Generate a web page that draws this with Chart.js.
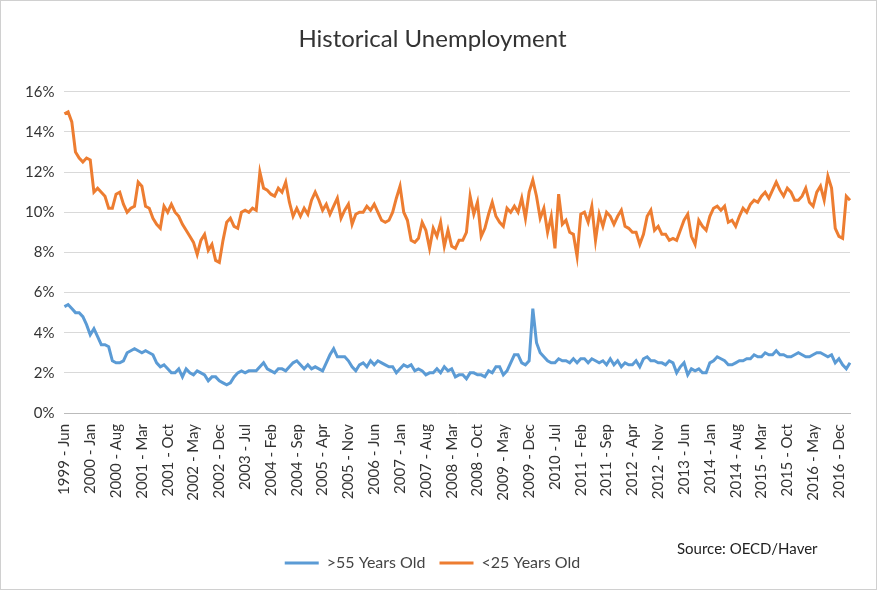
<!DOCTYPE html>
<html>
<head>
<meta charset="utf-8">
<script src="https://cdn.jsdelivr.net/npm/chart.js@4/dist/chart.umd.min.js"></script>
<style>
  html, body { margin: 0; padding: 0; background: #fff; }
  .frame { position: relative; width: 875px; height: 588px; border: 1px solid #d0d0d0; }
  canvas { display: block; }
  .source { position: absolute; left: 676px; top: 538px; font: 15px Lato, sans-serif; color: #222; }
</style>
</head>
<body>
<div class="frame">
  <canvas id="chart" width="875" height="588"></canvas>
  <div class="source">Source: OECD/Haver</div>
</div>
<script>
const MONTHS = ['Jan', 'Feb', 'Mar', 'Apr', 'May', 'Jun', 'Jul', 'Aug', 'Sep', 'Oct', 'Nov', 'Dec']
const startYear = 1999
const startMonth = 5 // Jun

const over55 = [
  5.3, 5.4, 5.2, 5.0, 5.0, 4.8, 4.4,
  3.9, 4.2, 3.8, 3.4, 3.4, 3.3, 2.6, 2.5, 2.5, 2.6, 3.0, 3.1,
  3.2, 3.1, 3.0, 3.1, 3.0, 2.9, 2.5, 2.3, 2.4, 2.2, 2.0, 2.0,
  2.2, 1.8, 2.2, 2.0, 1.9, 2.1, 2.0, 1.9, 1.6, 1.8, 1.8, 1.6,
  1.5, 1.4, 1.5, 1.8, 2.0, 2.1, 2.0, 2.1, 2.1, 2.1, 2.3, 2.5,
  2.2, 2.1, 2.0, 2.2, 2.2, 2.1, 2.3, 2.5, 2.6, 2.4, 2.2, 2.4,
  2.2, 2.3, 2.2, 2.1, 2.5, 2.9, 3.2, 2.8, 2.8, 2.8, 2.6, 2.3,
  2.1, 2.4, 2.5, 2.3, 2.6, 2.4, 2.6, 2.5, 2.4, 2.3, 2.3, 2.0,
  2.2, 2.4, 2.3, 2.4, 2.1, 2.2, 2.1, 1.9, 2.0, 2.0, 2.2, 2.0,
  2.3, 2.1, 2.2, 1.8, 1.9, 1.9, 1.7, 2.0, 2.0, 1.9, 1.9, 1.8,
  2.1, 2.0, 2.3, 2.3, 1.9, 2.1, 2.5, 2.9, 2.9, 2.5, 2.4, 2.6,
  5.2, 3.5, 3.0, 2.8, 2.6, 2.5, 2.5, 2.7, 2.6, 2.6, 2.5, 2.7,
  2.5, 2.7, 2.7, 2.5, 2.7, 2.6, 2.5, 2.6, 2.4, 2.7, 2.4, 2.6,
  2.3, 2.5, 2.4, 2.4, 2.6, 2.3, 2.7, 2.8, 2.6, 2.6, 2.5, 2.5,
  2.4, 2.6, 2.5, 2.0, 2.3, 2.5, 1.9, 2.2, 2.1, 2.2, 2.0, 2.0,
  2.5, 2.6, 2.8, 2.7, 2.6, 2.4, 2.4, 2.5, 2.6, 2.6, 2.7, 2.7,
  2.9, 2.8, 2.8, 3.0, 2.9, 2.9, 3.1, 2.9, 2.9, 2.8, 2.8, 2.9,
  3.0, 2.9, 2.8, 2.8, 2.9, 3.0, 3.0, 2.9, 2.8, 2.9, 2.5, 2.7,
  2.4, 2.2, 2.5
]

const under25 = [
  14.9, 15.0, 14.5, 13.0, 12.7, 12.5, 12.7,
  12.6, 11.0, 11.2, 11.0, 10.8, 10.2, 10.2, 10.9, 11.0, 10.4, 10.0, 10.2,
  10.3, 11.5, 11.3, 10.3, 10.2, 9.7, 9.4, 9.2, 10.3, 10.0, 10.4, 10.0,
  9.8, 9.4, 9.1, 8.8, 8.5, 7.9, 8.6, 8.9, 8.1, 8.4, 7.6, 7.5,
  8.6, 9.5, 9.7, 9.3, 9.2, 10.0, 10.1, 10.0, 10.2, 10.1, 12.0, 11.2,
  11.1, 10.9, 10.8, 11.2, 11.0, 11.5, 10.5, 9.8, 10.2, 9.8, 10.2, 9.9,
  10.6, 11.0, 10.6, 10.1, 10.4, 9.9, 10.3, 10.7, 9.7, 10.1, 10.4, 9.4,
  9.9, 10.0, 10.0, 10.3, 10.1, 10.4, 10.0, 9.6, 9.5, 9.6, 10.0, 10.7,
  11.3, 10.0, 9.6, 8.6, 8.5, 8.7, 9.5, 9.1, 8.2, 9.2, 8.8, 9.5,
  8.3, 9.1, 8.3, 8.2, 8.6, 8.6, 9.0, 10.8, 9.9, 10.5, 8.8, 9.2,
  9.9, 10.5, 9.8, 9.5, 9.3, 10.2, 10.0, 10.3, 10.0, 10.7, 9.7, 11.0,
  11.6, 10.8, 9.7, 10.2, 9.0, 9.8, 8.2, 10.9, 9.4, 9.6, 9.0, 8.9,
  7.8, 9.9, 10.0, 9.5, 10.3, 8.6, 9.9, 9.3, 10.0, 9.8, 9.4, 9.8,
  10.1, 9.3, 9.2, 9.0, 9.0, 8.4, 8.9, 9.8, 10.1, 9.1, 9.3, 8.9,
  8.9, 8.6, 8.7, 8.6, 9.1, 9.6, 9.9, 8.8, 8.4, 9.6, 9.3, 9.1,
  9.8, 10.2, 10.3, 10.1, 10.3, 9.5, 9.6, 9.3, 9.8, 10.2, 10.0, 10.4,
  10.6, 10.5, 10.8, 11.0, 10.7, 11.1, 11.5, 11.1, 10.8, 11.2, 11.0, 10.6,
  10.6, 10.8, 11.2, 10.5, 10.3, 11.0, 11.3, 10.6, 11.8, 11.2, 9.2, 8.8,
  8.7, 10.8, 10.6, 11.3
]

const labels = over55.map((_, i) => {
  const m = startMonth + i
  return (startYear + Math.floor(m / 12)) + ' - ' + MONTHS[m % 12]
})

const yTicks = [0, 2, 4, 6, 8, 10, 12, 14, 16]

const font = 'Lato, "Open Sans", sans-serif'

new Chart(document.getElementById('chart'), {
  type: 'line',
  data: {
    labels: labels,
    datasets: [
      { label: '>55 Years Old', data: over55, borderColor: '#5B9BD5', backgroundColor: '#5B9BD5', borderWidth: 3, pointRadius: 0, tension: 0 },
      { label: '<25 Years Old', data: under25, borderColor: '#ED7D31', backgroundColor: '#ED7D31', borderWidth: 3, pointRadius: 0, tension: 0 }
    ]
  },
  options: {
    responsive: false,
    animation: false,
    layout: { padding: { left: 14, right: 26, top: 6, bottom: 8 } },
    plugins: {
      title: { display: true, text: 'Historical Unemployment', color: '#333', font: { family: font, size: 24, weight: 'normal' }, padding: { top: 18, bottom: 38 } },
      legend: {
        position: 'bottom',
        align: 'center',
        labels: {
          color: '#444',
          font: { family: font, size: 16 },
          boxWidth: 34,
          boxHeight: 3,
          padding: 14,
          generateLabels: chart => Chart.defaults.plugins.legend.labels.generateLabels(chart).map(l => Object.assign(l, { lineWidth: 0 }))
        }
      },
      tooltip: { enabled: false }
    },
    scales: {
      x: {
        grid: { display: false },
        border: { color: '#bbb' },
        afterFit: axis => { axis.height = 128 },
        ticks: {
          autoSkip: false,
          minRotation: 90,
          maxRotation: 90,
          color: '#333',
          font: { family: font, size: 15 },
          callback: function (v, i) { return i % 7 === 0 ? labels[i] : null }
        }
      },
      y: {
        min: 0,
        max: 16,
        afterBuildTicks: axis => { axis.ticks = yTicks.map(v => ({ value: v })) },
        grid: { color: '#d9d9d9', drawTicks: false },
        border: { display: false },
        ticks: { color: '#333', padding: 10, font: { family: font, size: 15 }, callback: v => v + '%' }
      }
    }
  }
})
</script>
</body>
</html>
